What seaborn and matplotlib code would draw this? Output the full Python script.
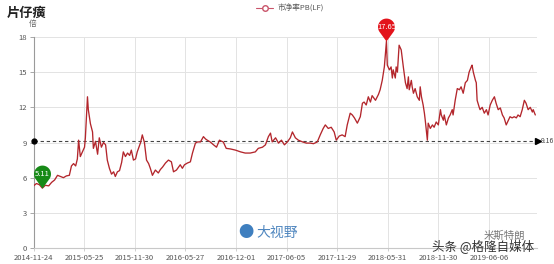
import numpy as np
import pandas as pd
import matplotlib
matplotlib.use("Agg")
import matplotlib.pyplot as plt
import seaborn as sns
from matplotlib.path import Path
from matplotlib.markers import MarkerStyle
from matplotlib.lines import Line2D

# ---- data ----
tick_labels = ["2014-11-24", "2015-05-25", "2015-11-30", "2016-05-27", "2016-12-01",
               "2017-06-05", "2017-11-29", "2018-05-31", "2018-11-30", "2019-06-06"]
tick_days = [0, 120, 240, 360, 480, 600, 720, 840, 960, 1080]

days = [0, 7, 14, 21, 28, 36, 43, 50, 57, 64, 71, 78, 85, 90, 95, 100, 104, 107, 111, 116,
        121, 123, 128, 130, 135, 140, 142, 147, 152, 156, 161, 166, 171, 175, 180, 185, 190,
        194, 199, 204, 209, 213, 218, 223, 228, 232, 237, 242, 246, 254, 258, 263, 268, 273,
        277, 282, 289, 296, 301, 306, 313, 320, 327, 332, 339, 344, 348, 353, 358, 365, 372,
        377, 384, 389, 396, 403, 408, 412, 419, 427, 434, 441, 446, 450, 457, 467, 479, 491,
        502, 514, 526, 533, 543, 550, 557, 562, 566, 574, 581, 588, 595, 602, 609, 614, 621,
        628, 638, 647, 656, 664, 673, 680, 687, 692, 699, 706, 713, 718, 725, 732, 739, 744,
        751, 756, 761, 768, 775, 780, 784, 789, 794, 799, 803, 811, 818, 822, 827, 832, 837,
        839, 844, 848, 851, 853, 858, 860, 863, 867, 872, 877, 882, 886, 889, 891, 896, 898,
        901, 905, 910, 915, 917, 920, 924, 927, 929, 934, 936, 941, 946, 950, 955, 960, 965,
        967, 972, 974, 979, 984, 988, 993, 995, 1000, 1005, 1010, 1014, 1019, 1024, 1029,
        1033, 1038, 1040, 1043, 1048, 1050, 1052, 1057, 1059, 1064, 1069, 1074, 1078, 1083,
        1088, 1093, 1097, 1102, 1107, 1112, 1116, 1121, 1126, 1130, 1135, 1140, 1145, 1149,
        1154, 1159, 1164, 1168, 1173, 1178, 1183, 1185, 1190]

pb = [5.3, 5.5, 5.4, 5.11, 5.35, 5.3, 5.6, 5.8, 6.2, 6.1, 6.0, 6.15, 6.2, 7.0, 7.2, 7.0, 7.6,
      9.2, 7.8, 8.2, 8.6, 9.4, 12.9, 11.8, 10.6, 9.9, 8.5, 9.1, 8.0, 9.4, 8.6, 9.0, 8.8, 7.5,
      6.8, 6.3, 6.5, 6.1, 6.5, 6.6, 7.3, 8.2, 7.8, 8.1, 7.9, 8.35, 7.5, 7.6, 8.2, 9.0, 9.65,
      9.0, 7.5, 7.2, 6.8, 6.2, 6.65, 6.4, 6.7, 6.9, 7.25, 7.5, 7.35, 6.5, 6.65, 6.9, 7.1, 6.8,
      7.1, 7.25, 7.35, 8.1, 8.95, 9.05, 9.05, 9.5, 9.3, 9.2, 9.05, 8.8, 8.6, 9.2, 9.1, 9.05,
      8.5, 8.45, 8.35, 8.2, 8.1, 8.1, 8.2, 8.5, 8.6, 8.8, 9.5, 9.8, 9.05, 9.4, 8.95, 9.2, 8.8,
      9.05, 9.4, 9.9, 9.4, 9.2, 9.05, 8.95, 8.95, 8.9, 9.05, 9.65, 10.2, 10.5, 10.2, 10.3, 9.9,
      9.2, 9.55, 9.65, 9.5, 10.5, 11.5, 11.35, 11.1, 10.65, 11.2, 12.35, 12.45, 12.2, 12.9,
      12.45, 13.0, 12.6, 13.1, 13.5, 14.3, 15.45, 17.65, 15.6, 15.2, 15.45, 14.5, 15.2, 14.5,
      15.45, 15.0, 17.3, 16.9, 15.45, 14.1, 13.6, 14.6, 13.5, 14.3, 13.75, 13.2, 13.6, 12.9,
      12.6, 13.75, 12.9, 12.2, 11.5, 10.9, 9.2, 10.65, 10.2, 10.5, 10.3, 10.75, 10.5, 11.8,
      11.35, 10.9, 11.35, 10.5, 11.1, 11.35, 11.8, 11.35, 12.6, 13.6, 13.5, 13.75, 13.2, 14.1,
      14.3, 15.0, 15.45, 15.6, 15.0, 14.3, 14.1, 12.6, 12.0, 11.8, 12.0, 11.5, 11.8, 11.35,
      12.2, 12.6, 12.9, 12.35, 11.8, 11.95, 11.35, 11.1, 10.5, 10.9, 11.2, 11.1, 11.2, 11.1,
      11.35, 11.2, 11.8, 12.6, 12.35, 11.8, 12.0, 11.6, 11.8, 11.35]

median_pb = 9.16
min_day, min_pb = 21, 5.11
max_day, max_pb = 837, 17.65

# ---- style ----
sns.set_theme(style="white")
plt.rcParams['font.family'] = ['Noto Sans CJK SC', 'DejaVu Sans']

fig = plt.figure(figsize=(5.54, 2.64), dpi=100)
ax = fig.add_axes([33.5 / 554, 16 / 264, (537 - 33.5) / 554, 211 / 264])

df = pd.DataFrame({"day": days, "pb": pb})
sns.lineplot(data=df, x="day", y="pb", ax=ax, color="#b3262c", lw=0.95, zorder=3)

ax.set_xlim(0, 1194)
ax.set_ylim(0, 18)
ax.set_yticks(range(0, 19, 3))
ax.set_xticks(tick_days)
ax.set_xticklabels(tick_labels)
ax.set_xlabel("")
ax.set_ylabel("")
ax.grid(True, color="#e3e3e3", lw=0.7)
ax.set_axisbelow(True)
for s in ["top", "right"]:
    ax.spines[s].set_visible(False)
ax.spines["left"].set_color("#9a9a9a")
ax.spines["left"].set_linewidth(0.8)
ax.spines["bottom"].set_color("#c8c8c8")
ax.spines["bottom"].set_linewidth(0.8)
ax.tick_params(axis="y", left=True, length=3, width=0.6, color="#9a9a9a",
               labelsize=5.5, labelcolor="#555555", pad=1.5)
ax.tick_params(axis="x", bottom=True, length=2.5, width=0.6, color="#c8c8c8",
               labelsize=5.5, labelcolor="#555555", pad=2)

# median dashed line
ax.plot([0, 1196], [median_pb, median_pb], ls=(0, (3, 2.5)), color="#444444", lw=0.8,
        clip_on=False, zorder=2)
ax.plot([0], [median_pb], marker="o", ms=3.5, color="black", clip_on=False, zorder=4)
ax.plot([1196], [median_pb], marker=">", ms=4.5, color="black", clip_on=False, zorder=4)
ax.text(1204, median_pb, f"{median_pb:.2f}", fontsize=5, color="#444444",
        va="center", ha="left", clip_on=False)

# pin markers
c = 1.7
a0 = np.deg2rad(-36)
a1 = np.deg2rad(216)
t = np.linspace(a0, a1, 60)
verts = [(0.0, 0.0)] + [(np.cos(tt), c + np.sin(tt)) for tt in t] + [(0.0, 0.0)]
codes = [Path.MOVETO] + [Path.LINETO] * 60 + [Path.CLOSEPOLY]
pin = MarkerStyle(Path(verts, codes))
ms_pin = 33
r_pt = ms_pin / 2 / (c + 1)
for d, v, col in [(min_day, min_pb, "#178a17"), (max_day, max_pb, "#e3131b")]:
    ax.plot([d], [v], marker=pin, ms=ms_pin, color=col, mec="none", clip_on=False, zorder=6)
    ax.annotate(f"{v:.2f}", (d, v), xytext=(0, c * r_pt), textcoords="offset points",
                ha="center", va="center", color="white", fontsize=5.5, zorder=7,
                annotation_clip=False)

# titles and legend
fig.text(7 / 554, 1 - 13 / 264, "片仔癀", fontsize=9.5, fontweight="bold", color="#222222",
         ha="left", va="center")
fig.text(33 / 554, 1 - 24 / 264, "倍", fontsize=5.5, color="#666666", ha="center", va="center")
handle = Line2D([], [], color="#c9546a", marker="o", mfc="white", mec="#c9546a", ms=4, lw=0.8)
fig.legend(handles=[handle], labels=["市净率PB(LF)"], loc="center",
           bbox_to_anchor=(290 / 554, 1 - 9 / 264), frameon=False, fontsize=5.5,
           handlelength=2.2, handletextpad=0.6, labelcolor="#555555")

# watermarks
fig.text(246 / 554, 1 - 233 / 264, "●", fontsize=11, color="#3f7fbf", ha="center", va="center")
fig.text(256 / 554, 1 - 233 / 264, "大视野", fontsize=10, color="#4f86bf", ha="left", va="center")
fig.text(484 / 554, 1 - 236 / 264, "米斯特朗", fontsize=7.5, color="#777777", ha="left", va="center")
fig.text(432 / 554, 1 - 247 / 264, "头条 @格隆自媒体", fontsize=9, color="#333333",
         ha="left", va="center")

fig.savefig("out.png", dpi=100)
